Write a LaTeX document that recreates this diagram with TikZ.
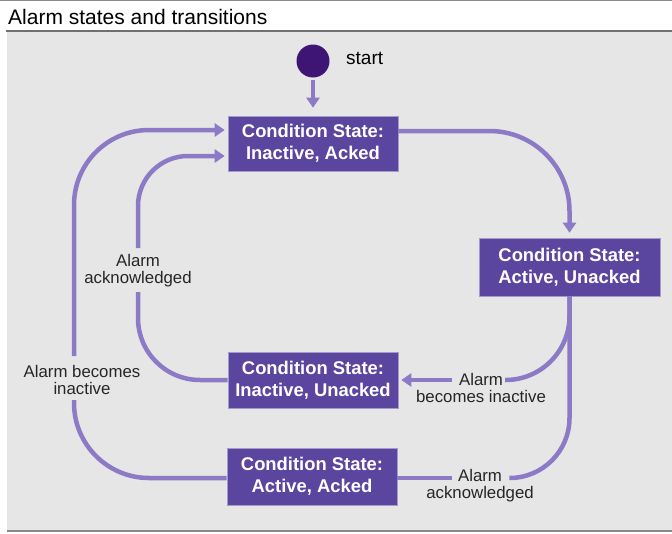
\documentclass[tikz,border=0pt]{standalone}
\usepackage{fontspec}
\setmainfont{Liberation Sans}
\usetikzlibrary{arrows.meta}
\definecolor{panel}{HTML}{E6E6E6}
\definecolor{boxfill}{HTML}{5A459F}
\definecolor{conn}{HTML}{8C7AC6}
\definecolor{startc}{HTML}{3E1475}
\definecolor{rulec}{HTML}{8A8A8A}
\definecolor{rulecd}{HTML}{707070}
\begin{document}
\begin{tikzpicture}[x=1pt,y=-1pt,
  state/.style={fill=boxfill, draw=boxfill!55!white, line width=0.6pt, text=white,
    font=\fontsize{18.4}{22}\selectfont\bfseries, align=center,
    minimum width=170pt, minimum height=55pt, inner sep=0pt},
  lab/.style={font=\fontsize{16.8}{17}\selectfont, text=black!85, align=center, inner sep=0pt},
  link/.style={draw=conn, line width=4.5pt},
  tip/.style={-{Triangle[width=13pt,length=10pt]}}]
\useasboundingbox (0,0) rectangle (672,533);
\fill[white] (0,0) rectangle (672,533);
% frame
\fill[panel] (7,32) rectangle (672,530);
\draw[rulec, line width=1pt] (0,0.5) -- (672,0.5);
\draw[rulecd, line width=2pt] (6,31) -- (672,31);
\draw[rulec, line width=2pt] (7,531) -- (672,531);
\node[anchor=west, font=\fontsize{21}{21}\selectfont, inner sep=0pt] (title) at (8,17) {Alarm states and transitions};
% start
\node[circle, fill=startc, minimum size=33pt, inner sep=0pt] (st) at (313,61) {};
\node[anchor=west, font=\fontsize{19}{20}\selectfont, inner sep=0pt] (stl) at (346,58) {start};
% states
\node[state] (b1) at (313,143.5) {Condition State:\\Inactive, Acked};
\node[state, minimum width=181pt, minimum height=58pt] (b2) at (569.5,267) {Condition State:\\Active, Unacked};
\node[state, minimum height=56pt] (b3) at (313,380) {Condition State:\\Inactive, Unacked};
\node[state, minimum height=57pt] (b4) at (312,476.5) {Condition State:\\Active, Acked};
% labels
\node[lab] (l1) at (138,270.5) {Alarm\\acknowledged};
\node[lab] (l2) at (82,379.5) {Alarm becomes\\inactive};
\node[lab] (l3) at (481,387.5) {Alarm\\becomes inactive};
\node[lab] (l4) at (480,485.5) {Alarm\\acknowledged};
% coordinates
\coordinate (e3a) at (505,380);
\coordinate (e3b) at (452,380);
\coordinate (e4a) at (510,478);
\coordinate (e4b) at (452,478);
\coordinate (e5a) at (74,400);
\coordinate (e5b) at (74,356);
\coordinate (e6a) at (138,292);
\coordinate (e6b) at (138,248);
% connectors
\draw[link, tip, shorten <=2pt, shorten >=8pt] (st) -- (b1);
\draw[link, tip, rounded corners=80pt, shorten >=5pt] ([yshift=12.5pt]b1.east) -| (b2.north);
\draw[link, rounded corners=64pt] (b2.south) |- (e3a);
\draw[link, tip, shorten >=3pt] (e3b) -- (b3.east);
\draw[link, rounded corners=60pt] (b2.south) |- (e4a);
\draw[link] (e4b) -- (b4.east |- e4b);
\draw[link, rounded corners=75pt] (b4.west |- e4b) -| (e5a);
\draw[link, tip, rounded corners=75pt, shorten >=3pt] (e5b) |- ([yshift=13.5pt]b1.west);
\draw[link, rounded corners=62pt] (b3.west) -| (e6a);
\draw[link, tip, rounded corners=50pt, shorten >=3pt] (e6b) |- ([yshift=-12.5pt]b1.west);
\end{tikzpicture}
\end{document}
